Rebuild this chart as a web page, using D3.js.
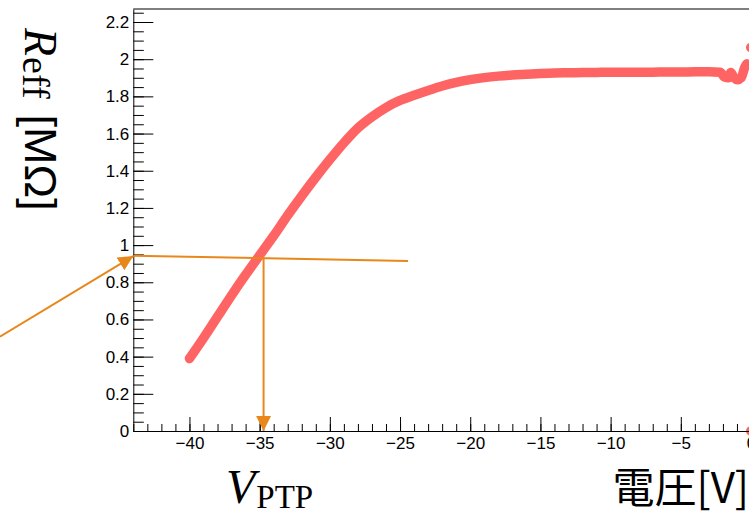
<!DOCTYPE html>
<html><head><meta charset="utf-8">
<script src="https://cdn.jsdelivr.net/npm/d3@7"></script>
<style>body{margin:0;background:#fff;overflow:hidden} svg{display:block}</style>
</head><body><svg id="c" width="749" height="515"></svg>
<script>
// ---- data ----
const voltage = [-40,-39,-38,-37,-36,-35,-34,-33,-32,-31,-30,-29,-28,-27,-26,-25,-24,-23,-22,-21,-20,-19,-18,-17,-16,-15,-14,-13,-12,-11,-10,-9,-8,-7,-6,-5,-4,-3,-2.2,-1.9,-1.6,-1.45,-1.2,-0.95,-0.7,-0.45,-0.3];
const resistance = [0.39,0.50,0.615,0.73,0.84,0.945,1.05,1.16,1.265,1.365,1.46,1.55,1.63,1.69,1.74,1.778,1.806,1.832,1.856,1.875,1.89,1.901,1.909,1.915,1.919,1.923,1.926,1.927,1.928,1.929,1.93,1.93,1.93,1.93,1.931,1.931,1.932,1.932,1.93,1.905,1.90,1.928,1.90,1.89,1.90,1.955,1.975];
const extraV = [0, 0];
const extraR = [2.063, 0];
const xTickValues = [-40,-35,-30,-25,-20,-15,-10,-5,0];
const xTickLabels = ["\u221240","\u221235","\u221230","\u221225","\u221220","\u221215","\u221210","\u22125","0"];
const yTickValues = [0,0.2,0.4,0.6,0.8,1,1.2,1.4,1.6,1.8,2,2.2];
const yTickLabels = ["0","0.2","0.4","0.6","0.8","1","1.2","1.4","1.6","1.8","2","2.2"];
// annotation: guide line and arrows (data coordinates)
const guideLine = [[-44, 0.943], [-24.43, 0.914]];
const downArrow = [[-34.72, 0.925], [-34.72, 0]];
const pointerArrow = [[-53.5, 0.507], [-44, 0.941]];

const svg = d3.select("#c");
const x = d3.scaleLinear().domain([-44, 0]).range([133.3, 751]);
const y = d3.scaleLinear().domain([0, 2.27]).range([431, 9]);

const AX = "Liberation Sans, Arial, Helvetica, sans-serif";
const RED = "#ff6464", ORANGE = "#e8871a";

// frame top
svg.append("line").attr("x1", x(-44)).attr("x2", 760).attr("y1", y(2.27)).attr("y2", y(2.27))
  .attr("stroke", "#000").attr("stroke-width", 1);

// data band
const pts = voltage.map((v, i) => [v, resistance[i]]);
svg.append("path").datum(pts)
  .attr("d", d3.line().curve(d3.curveMonotoneX).x(d => x(d[0])).y(d => y(d[1])))
  .attr("fill", "none").attr("stroke", RED).attr("stroke-width", 9.5)
  .attr("stroke-linecap", "round").attr("stroke-linejoin", "round");
svg.selectAll("circle.extra").data(extraV.map((v, i) => [v, extraR[i]])).join("circle")
  .attr("class", "extra").attr("cx", d => x(d[0])).attr("cy", d => y(d[1])).attr("r", 5).attr("fill", RED);

// minor ticks
const xMinor = d3.range(-44, 0.5, 1);
svg.append("g").attr("transform", `translate(0,${y(0)})`)
  .call(d3.axisBottom(x).tickValues(xMinor).tickSizeInner(-7).tickSizeOuter(0).tickFormat(""))
  .call(g => g.select(".domain").remove());
const yMinor = d3.range(0, 2.26, 0.05);
svg.append("g").attr("transform", `translate(${x(-44)},0)`)
  .call(d3.axisLeft(y).tickValues(yMinor).tickSizeInner(-10.5).tickSizeOuter(0).tickFormat(""))
  .call(g => g.select(".domain").remove());

// major axes
const xAxis = svg.append("g").attr("transform", `translate(0,${y(0)})`)
  .call(d3.axisBottom(x).tickValues(xTickValues).tickSizeInner(-14).tickSizeOuter(0).tickPadding(6)
    .tickFormat((d, i) => xTickLabels[i]));
const yAxis = svg.append("g").attr("transform", `translate(${x(-44)},0)`)
  .call(d3.axisLeft(y).tickValues(yTickValues).tickSizeInner(-20).tickSizeOuter(0).tickPadding(4)
    .tickFormat((d, i) => yTickLabels[i]));
[xAxis, yAxis].forEach(g => {
  g.attr("font-size", 17).attr("font-family", AX);
  g.selectAll("text").attr("font-family", AX).attr("font-size", 17).attr("fill", "#000");
});
svg.selectAll(".tick line").attr("stroke", "#000");
svg.selectAll(".domain").attr("stroke", "#000");

// arrows
const defs = svg.append("defs");
defs.append("marker").attr("id", "ah").attr("markerUnits", "userSpaceOnUse")
  .attr("markerWidth", 17).attr("markerHeight", 17).attr("refX", 15).attr("refY", 8.5)
  .attr("orient", "auto").attr("viewBox", "0 0 17 17")
  .append("path").attr("d", "M0,1 L15,8.5 L0,16 Z").attr("fill", ORANGE);
const ln = d3.line().x(d => x(d[0])).y(d => y(d[1]));
svg.append("path").attr("d", ln(guideLine)).attr("stroke", ORANGE).attr("stroke-width", 2).attr("fill", "none");
svg.append("path").attr("d", ln(downArrow)).attr("stroke", ORANGE).attr("stroke-width", 2).attr("fill", "none").attr("marker-end", "url(#ah)");
svg.append("path").attr("d", ln(pointerArrow)).attr("stroke", ORANGE).attr("stroke-width", 2).attr("fill", "none").attr("marker-end", "url(#ah)");

// y title (rotated, reading top to bottom)
const yt = svg.append("text").attr("transform", "translate(25,28) rotate(90)")
  .attr("fill", "#000");
yt.append("tspan").text("R").attr("font-family", "Liberation Serif, serif").attr("font-style", "italic").attr("font-size", 46);
yt.append("tspan").text("eff").attr("font-family", "Liberation Serif, serif").attr("font-size", 38).attr("dx", 1).attr("dy", 2);
yt.append("tspan").text("[M\u03A9]").attr("font-family", AX).attr("font-size", 45).attr("dx", 16).attr("dy", -2);

// x titles
const xt = svg.append("text").attr("x", 226).attr("y", 503).attr("fill", "#000");
xt.append("tspan").text("V").attr("font-family", "Liberation Serif, serif").attr("font-style", "italic").attr("font-size", 48);
xt.append("tspan").text("PTP").attr("font-family", "Liberation Serif, serif").attr("font-size", 33).attr("dx", 1).attr("dy", 5);

svg.append("text").attr("x", 749).attr("y", 503).attr("text-anchor", "end")
  .attr("font-family", "Noto Sans CJK JP, sans-serif").attr("font-size", 42).attr("fill", "#000")
  .text("電圧[V]");
</script>
</body></html>
